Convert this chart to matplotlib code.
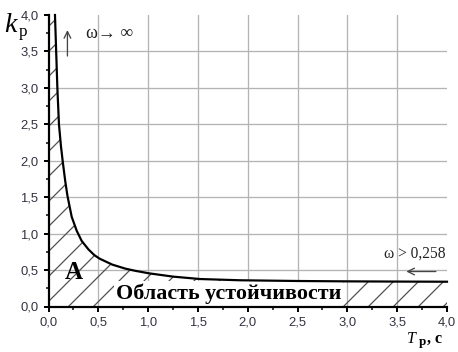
import matplotlib
matplotlib.use("Agg")
import matplotlib.pyplot as plt
from matplotlib.ticker import MultipleLocator

# ---- data ----
T = [0.065, 0.077, 0.089, 0.105, 0.125, 0.142, 0.168, 0.19, 0.233, 0.283,
     0.333, 0.40, 0.46, 0.515, 0.64, 0.77, 0.87, 1.01, 1.25, 1.52, 1.92,
     2.5, 3.0, 3.5, 4.0]
k = [4.0, 3.5, 3.0, 2.5, 2.2, 2.0, 1.72, 1.52, 1.23, 1.04,
     0.90, 0.785, 0.705, 0.655, 0.575, 0.52, 0.49, 0.455, 0.41, 0.377, 0.36,
     0.35, 0.345, 0.342, 0.34]
major_ticks = [0.0, 0.5, 1.0, 1.5, 2.0, 2.5, 3.0, 3.5, 4.0]
tick_labels = ["0,0", "0,5", "1,0", "1,5", "2,0", "2,5", "3,0", "3,5", "4,0"]
grid_vals = [0.5, 1.0, 1.5, 2.0, 2.5, 3.0, 3.5]

DPI = 150
def pt(px):
    return px * 72.0 / DPI

W, H = 458, 352
plt.rcParams['hatch.linewidth'] = 0.6
fig = plt.figure(figsize=(W / DPI, H / DPI), dpi=DPI)
ax = fig.add_axes([48.5 / W, 45.5 / H, 398.5 / W, 291.5 / H])
ax.set_xlim(0, 4)
ax.set_ylim(0, 4)

# grid (not at the limits)
for g in grid_vals:
    ax.axvline(g, color='#b4b4b4', lw=pt(1.3), zorder=0)
    ax.axhline(g, color='#b4b4b4', lw=pt(1.3), zorder=0)

# hatched stability region
fx = [0.0, 0.0] + T + [4.0]
fy = [0.0, 4.0] + k + [0.0]
ax.fill(fx, fy, facecolor='none', edgecolor='#505050', lw=0, hatch='//', zorder=1)

# curve
ax.plot(T, k, color='black', lw=pt(2.2), zorder=4, clip_on=False,
        solid_joinstyle='round')

serif = ['Liberation Serif', 'DejaVu Serif']
ax.text(1.81, 0.18, "Область устойчивости", family=serif, weight='bold',
        fontsize=pt(22), ha='center', va='center', zorder=3,
        bbox=dict(facecolor='white', edgecolor='none', pad=1.0))
ax.text(0.25, 0.47, "A", family=serif, weight='bold', fontsize=pt(25),
        ha='center', va='center', zorder=3)

# omega -> infinity
ax.annotate("", xy=(0.19, 3.85), xytext=(0.19, 3.38),
            arrowprops=dict(arrowstyle='->', color='#444444', lw=pt(1.3),
                            mutation_scale=8), zorder=5)
fig.text(86 / W, 1 - 33 / H, "ω→ ∞", family=serif, fontsize=pt(18),
         ha='left', va='center', color='#222222')

# omega > 0,258
fig.text(446 / W, 1 - 254 / H, "ω > 0,258", family=serif, fontsize=pt(15.5),
         ha='right', va='center', color='#222222')
ax.annotate("", xy=(3.55, 0.48), xytext=(3.93, 0.48),
            arrowprops=dict(arrowstyle='->', color='#444444', lw=pt(1.3),
                            mutation_scale=8), zorder=5)

# axes styling
for s in ['top', 'right']:
    ax.spines[s].set_visible(False)
for s in ['left', 'bottom']:
    ax.spines[s].set_linewidth(pt(2.2))
    ax.spines[s].set_zorder(6)
ax.set_xticks(major_ticks)
ax.set_xticklabels(tick_labels)
ax.set_yticks(major_ticks)
ax.set_yticklabels(tick_labels)
ax.xaxis.set_minor_locator(MultipleLocator(0.25))
ax.yaxis.set_minor_locator(MultipleLocator(0.25))
ax.tick_params(which='major', direction='out', length=pt(5), width=pt(2),
               labelsize=pt(13), labelcolor='#333340', pad=pt(5))
ax.tick_params(which='minor', direction='out', length=pt(3), width=pt(1.5))
for lab in ax.get_xticklabels() + ax.get_yticklabels():
    lab.set_family(['Liberation Sans', 'DejaVu Sans'])

# axis labels
fig.text(4 / W, 1 - 32 / H, "k", family=serif, style='italic',
         fontsize=pt(28), ha='left', va='baseline')
fig.text(19 / W, 1 - 36 / H, "р", family=serif, fontsize=pt(17),
         ha='left', va='baseline')
fig.text(407 / W, 1 - 343 / H, "T", family=serif, style='italic',
         fontsize=pt(16), ha='left', va='baseline')
fig.text(419 / W, 1 - 345 / H, "р", family=serif, weight='bold',
         fontsize=pt(13), ha='left', va='baseline')
fig.text(427 / W, 1 - 343 / H, ", с", family=serif, weight='bold',
         fontsize=pt(16), ha='left', va='baseline')

fig.savefig("out.png", dpi=DPI)
